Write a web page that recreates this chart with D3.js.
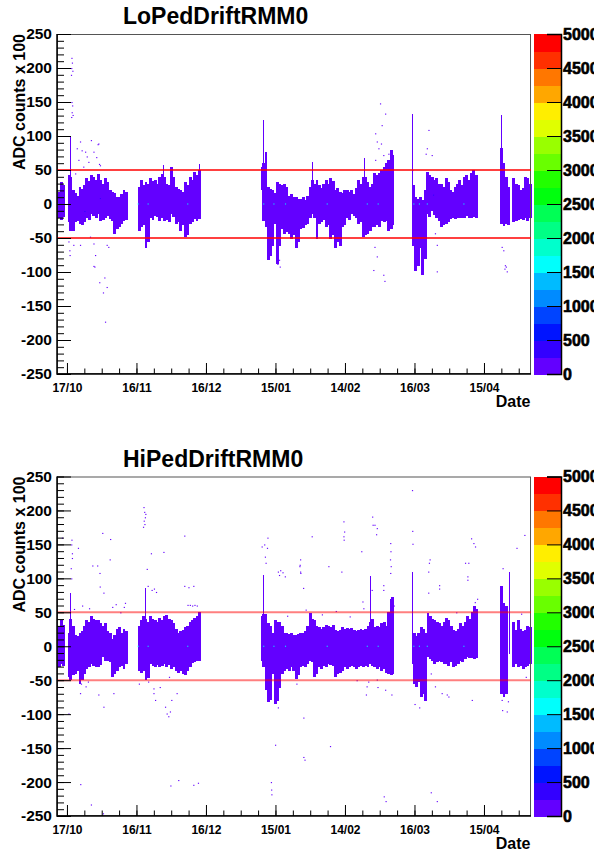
<!DOCTYPE html>
<html>
<head>
<meta charset="utf-8">
<script src="https://cdn.jsdelivr.net/npm/d3@7"></script>
<style>
body { margin: 0; background: #fff; }
text { font-family: "Liberation Sans", Arial, Helvetica, sans-serif; font-weight: bold; }
</style>
</head>
<body>
<svg id="drawArea" width="594" height="856"></svg>
<script>
// x values are days counted from 17/10
var dayRange = [-4.3, 200.3];
var dateTicks = [0, 30, 60, 90, 120, 150, 180];
var dateLabels = ["17/10", "16/11", "16/12", "15/01", "14/02", "16/03", "15/04"];
var paletteTicks = [0, 500, 1000, 1500, 2000, 2500, 3000, 3500, 4000, 4500, 5000];
var limitLines = [-50, 50];
var binDays = 0.45;

// [day, low, high] of the dense band, one column per day
var loBand = [
 [-4,-20,18],[-3,-22,32],[-2,-18,24],[-1.9,-15,28],
 [0.3,-26,43],[1,-38,40],[2,-38,21],[3,-26,16],[4,-24,12],[5,-28,25],[6,-30,22],[7,-26,28],[8,-19,38],[9,-22,34],[10,-14,43],[11,-16,40],[12,-20,36],[13,-14,44],[14,-24,35],[15,-22,30],[16,-20,38],[17,-16,32],[18,-21,21],[19,-24,18],[20,-43,16],[21,-35,10],[22,-33,11],[23,-28,14],[24,-24,21],[24.9,-22,18],
 [30.5,-38,25],[31.5,-33,35],[32.5,-30,28],[33.5,-63,33],[34.5,-55,30],[35.5,-19,38],[36.5,-22,34],[37.5,-16,35],[38.5,-18,30],[39.5,-24,39],[40.5,-20,44],[41.5,-24,40],[42.5,-22,30],[43.5,-26,28],[44.5,-14,55],[45.5,-18,40],[46.5,-28,25],[47.5,-26,22],[48.5,-38,21],[49.5,-30,18],[50.5,-48,33],[51.5,-44,28],[52.5,-28,40],[53.5,-25,36],[54.5,-21,47],[55.5,-24,42],[56.5,-21,50],
 [84.3,-24,60],[85.3,-33,77],[86.3,-82,25],[87.3,-75,22],[88.3,-60,20],[89.3,-28,16],[90.3,-87,33],[91.3,-60,30],[92.3,-35,28],[93.3,-43,30],[94.3,-40,25],[95.3,-43,12],[96.3,-50,14],[97.3,-45,10],[98.3,-63,11],[99.3,-55,8],[100.3,-36,8],[101.3,-34,10],[102.3,-30,6],[103.3,-28,12],[104.3,-19,25],[105.3,-14,35],[106.3,-20,30],[107.3,-50,35],[108.3,-28,28],[109.3,-26,24],[110.3,-22,30],[111.3,-33,35],[112.3,-30,30],[113.3,-50,38],[114.3,-45,34],[115.3,-63,21],[116.3,-55,24],[117.3,-60,18],[118.3,-33,16],[119.3,-30,20],[120.3,-19,21],[121.3,-22,18],[122.3,-14,21],[123.3,-16,15],[124.3,-20,24],[125.3,-28,35],[126.3,-25,30],[127.3,-48,40],[128.3,-45,40],[129.3,-43,33],[130.3,-38,25],[131.3,-33,30],[132.3,-33,45],[133.3,-30,42],[134.3,-33,45],[135.3,-24,50],[136.3,-26,55],[137.3,-24,60],[138.3,-38,65],[139.3,-35,79],[140,-30,72],
 [149,-60,28],[150,-97,11],[151,-90,8],[152,-63,11],[153,-104,6],[154,-80,20],[155,-14,47],[156,-18,42],[157,-9,40],[158,-15,35],[159,-19,38],[160,-24,30],[161,-33,30],[162,-30,25],[163,-28,38],[164,-25,32],[165,-21,21],[166,-20,18],[167,-21,25],[168,-19,30],[169,-20,35],[170,-19,28],[171,-19,40],[172,-17,43],[173,-20,36],[174,-19,45],[175,-18,50],[176.3,-19,42],
 [187,-28,82],[188,-31,60],[189,-28,40],[189.8,-30,25],[192.3,-26,38],[193.3,-24,30],[194.3,-22,28],[195.3,-21,21],[196.3,-23,24],[197.3,-19,40],[198.3,-24,38],[199.3,-20,30]
];
// single-bin tall columns [day, low, high]
var loSpikes = [[1.4,-38,99],[41.6,-20,57],[56.9,-15,59],[83.7,21,54],[84.7,-24,124],[105.8,-10,62],[128,-40,67],[148.8,28,133],[187.2,-28,131]];
// isolated entries [day, value]
var loDots = [
 [1.9,215],[2.1,208],[1.8,200],[2.3,196],[1.7,190],[1.9,150],[2.2,145],[2.0,135],[2.4,131],[1.8,128],
 [5.6,92],[6.3,79],[7.8,77],[8.5,70],[11.4,77],[13.5,89],[14.2,57],[4.2,82],[4.9,65],[7,55],[9.2,62],[3.5,45],[10.3,94],[12.6,69],[13.2,88],[13.8,59],
 [0.6,-55],[1.0,-68],[1.1,-75],[2.7,-60],[5.6,-60],[9.9,-48],[11.4,-58],[12.1,-75],[17.1,-60],[17.8,-63],[11.8,-92],[11.4,-91],[16.1,-108],[13.9,-115],[17.1,-122],[15.5,-130],[16.4,-173],
 [91.5,-82],[91.8,-92],[90.8,-88],
 [135.1,148],[137.3,133],[135.8,116],[133,104],[133.7,92],[135.5,89],[134.4,82],[136.5,72],[138.7,74],[140.1,70],[133,65],[156,109],[155.3,82],[154.8,74],[157.4,72],[149,50],
 [132.7,-63],[133.7,-77],[132.2,-97],[136.5,-104],[137,-113],[158.8,-43],[159.6,-60],[159.6,-99],[187.6,-63],[188.3,-68],[189,-90],[189.8,-99],[188.8,-95],[189.4,-92]
];
// bins with higher counts [day, value, count]
var loHot = [[-4.2,0,1600],[30.5,0,1600],[34.8,0,1600],[51.9,0,1600],[84.7,0,1600],[89.1,0,1600],[94.1,0,1600],[112.1,0,1600],[129.4,0,1600],[134.1,0,1600],[149.5,0,1600],[151.9,0,1600],[155.3,0,1600],[171.1,0,1600],[14.2,8,400],[7.5,-11,400],[158,13,400]];

var hiBand = [
 [-4,-30,30],[-3,-25,38],[-2,-28,28],[-1.9,-22,32],
 [0.3,-44,20],[1,-49,40],[2,-42,30],[3,-40,17],[4,-35,15],[5,-54,19],[6,-48,22],[7,-40,30],[8,-32,39],[9,-30,36],[10,-25,44],[11,-28,40],[12,-30,38],[13,-30,39],[14,-26,34],[15,-15,30],[16,-20,34],[17,-20,22],[18,-22,20],[19,-44,10],[20,-40,16],[21,-35,25],[22,-30,29],[23,-28,20],[24,-32,26],[24.9,-25,22],
 [30.5,-35,30],[31.5,-38,39],[32.5,-35,45],[33.5,-49,40],[34.5,-45,35],[35.5,-25,44],[36.5,-28,40],[37.5,-30,39],[38.5,-26,35],[39.5,-30,42],[40.5,-28,39],[41.5,-25,44],[42.5,-30,46],[43.5,-27,40],[44.5,-32,39],[45.5,-30,34],[46.5,-35,25],[47.5,-38,19],[48.5,-35,22],[49.5,-40,24],[50.5,-42,28],[51.5,-36,30],[52.5,-30,35],[53.5,-24,39],[54.5,-22,42],[55.5,-20,45],[56.5,-20,50],
 [83.7,-20,44],[84.3,-30,47],[85.3,-64,47],[86.3,-81,34],[87.3,-78,30],[88.3,-40,20],[89.3,-84,39],[90.3,-80,35],[91.3,-60,36],[92.3,-40,30],[93.3,-35,19],[94.3,-32,20],[95.3,-35,18],[96.3,-30,19],[97.3,-35,17],[98.3,-47,17],[99.3,-42,18],[100.3,-30,19],[101.3,-28,20],[102.3,-30,22],[103.3,-25,30],[104.3,-20,49],[105.3,-22,40],[106.3,-44,39],[107.3,-40,30],[108.3,-30,29],[109.3,-32,25],[110.3,-28,29],[111.3,-30,32],[112.3,-25,30],[113.3,-26,28],[114.3,-28,32],[115.3,-44,24],[116.3,-40,22],[117.3,-38,24],[118.3,-35,29],[119.3,-30,26],[120.3,-32,27],[121.3,-30,25],[122.3,-28,27],[123.3,-30,24],[124.3,-32,22],[125.3,-30,24],[126.3,-28,26],[127.3,-30,24],[128.3,-28,26],[129.3,-30,30],[130.3,-25,35],[131.3,-28,40],[132.3,-30,29],[133.3,-32,30],[134.3,-30,28],[135.3,-35,34],[136.3,-33,36],[137.3,-38,30],[138.3,-40,50],[139.3,-42,70],[140,-40,72],
 [149.3,-55,19],[150.3,-59,15],[151.3,-52,19],[152.3,-74,29],[153.3,-70,25],[154.2,-79,19],[155.2,-15,49],[156.2,-18,45],[157.2,-20,40],[158.2,-25,39],[159.2,-22,35],[160.2,-20,34],[161.2,-22,30],[162.2,-25,35],[163.2,-25,42],[164.2,-28,38],[165.2,-22,30],[166.2,-30,24],[167.2,-28,22],[168.2,-25,26],[169.2,-20,34],[170.2,-22,30],[171.2,-18,36],[172.2,-15,44],[173.2,-16,40],[174.2,-17,50],[175.2,-18,59],[176.3,-17,55],
 [187,-69,88],[188,-74,64],[189,-70,60],[192.3,-30,35],[193.3,-25,24],[194.3,-30,39],[195.3,-28,26],[196.3,-32,22],[197.3,-30,24],[198.3,-28,30],[199.3,-25,28]
];
var hiSpikes = [[1.5,-49,78],[33.7,-49,86],[84.7,-30,105],[130.9,-25,103],[148.8,-25,110],[190.6,-10,110]];
var hiDots = [
 [33,205],[33.3,198],[33.6,190],[33.1,185],[33.4,180],[33.8,195],[32.8,176],
 [-2.2,160],[1.9,157],[1.8,150],[2.1,137],[2.1,130],[1.6,115],[1.8,100],[4.7,145],[15.2,167],[18.6,158],
 [10.9,119],[13,119],[14,108],[14.1,88],[15.7,79],[18.4,128],[36.2,137],[41.6,139],[34.4,114],[34.8,89],[36.5,83],[37.5,85],[38.4,80],
 [50.6,163],[50.6,89],[52.4,87],[54.5,89],[52,61],[53,61],[54,60],[55,61],[56,60],
 [84,147],[85.1,150],[85.4,132],[85.7,123],[86.5,160],[86.3,145],[91,110],[92,112],[93,109],[94,103],[91.5,105],[100.6,110],[100.3,118],
 [0.6,-99],[5.6,-69],[13.5,-71],[15.7,-89],[20,-69],[37.3,-69],[38,-79],[42.3,-89],[43,-99],[43.7,-103],[44.4,-96],[45,-79],[47.3,-69],[37.3,-62],[40,-60],[6,-55],[8,-59],[9,-52],
 [86.9,-79],[90,-81],[91,-90],
 [89.8,-145],[102,-163],[102.5,-167],[113.5,-147],[131.7,191],[131.9,179],[148.9,230],
 [5.7,-203],[10.3,-233],[15.5,-246],[44.6,-205],[48,-197],[54.5,-204],[56.5,-201],[88,-200],[88.1,-211],[88.2,-218],[136.7,-221],[137.5,-228],[157,-215],[159.6,-228],
 [119.3,184],[119.6,169],[119.3,162],[119.4,157],[105.6,162],[100.6,128],[100.4,120],[100.7,108],[101.9,86],[112.8,118],[118.4,110],[132.7,179],[133.7,174],[133.4,165],[127,140],[127.5,66],[127.9,56],[131.5,83],
 [139.5,152],[139.6,140],[139.4,128],[139.7,118],[139.5,108],[136.5,83],[149,170],[149.1,151],[156.5,128],[156.2,123],[155.9,110],[155.9,79],[160.6,90],[160.6,85],
 [172.8,103],[172.8,98],[171.8,123],[173.2,123],[174.4,159],[175.4,152],[176.1,147],[194,145],[197.4,164],[188,115],
 [129,-71],[129.3,-59],[133.7,-49],[137.3,-64],[140,-71],[158.8,-59],[161.7,-69],[163.9,-71],[164.6,-74],[174.7,-79],[187.6,-79],[187.8,-94],[189.8,-96],[190.3,-81],[102,-105],
 [3,55],[6.5,60],[9.5,56],[19.5,58],[21,62],[23,50],[25,64],[24.5,58],[31,-55],[35,-52],[44,-45],
 [99,-55],[95,45],[103,54],[110,47],[116,52],[122,44],[125,-50],[130,-52],[134,-60],[141,60],[136.5,90],[150,-85],[152,-90],[157,-40],[168,50],[176,65],[177,70],[196,48],[198,-45]
];
var hiHot = [[-4.2,0,1600],[30.5,0,1600],[34.8,0,1600],[51.9,0,1600],[84.7,0,1600],[89.1,0,1600],[94.1,0,1600],[112.1,0,1600],[129.4,0,1600],[134.1,0,1600],[149.5,0,1600],[151.9,0,1600],[155.3,0,1600],[171.1,0,1600]];

// ROOT style rainbow palette, 20 contour levels of 250 counts
function levelColor(count) {
    var k = Math.min(19, Math.floor(count / 250));
    var idx = Math.floor((k + 0.99) * 50 / 20);
    return d3.hsl(280 - (idx + 1) * 5.6, 1, 0.5).formatHex();
}

function Panel(svg, top, bottom, title, band, spikes, dots, hot, lineOpacity, lineWidth) {
    var thisobj = this;
    this.svg = svg;
    this.left = 57;
    this.right = 531;
    this.top = top;
    this.bottom = bottom;

    this.Draw = function () {
        var g = thisobj.svg.append("g");
        var x = d3.scaleLinear().domain(dayRange).range([thisobj.left, thisobj.right]);
        var y = d3.scaleLinear().domain([-250, 250]).range([thisobj.bottom, thisobj.top]);
        var base = levelColor(0);
        var binW = x(binDays) - x(0);

        g.append("text")
            .attr("x", 123).attr("y", thisobj.top - 10)
            .attr("font-size", "23px")
            .text(title);

        // dense band, drawn crisp so neighbour columns do not leave seams
        g.append("g").attr("shape-rendering", "crispEdges")
            .selectAll("rect").data(band).enter().append("rect")
            .attr("x", function (d) { return x(d[0]); })
            .attr("width", x(1) - x(0) + 0.6)
            .attr("y", function (d) { return y(d[2]); })
            .attr("height", function (d) { return y(d[1]) - y(d[2]) + 0.7; })
            .style("fill", base);

        g.append("g").attr("shape-rendering", "crispEdges")
            .selectAll("rect").data(spikes).enter().append("rect")
            .attr("x", function (d) { return x(d[0]); })
            .attr("width", binW)
            .attr("y", function (d) { return y(d[2]); })
            .attr("height", function (d) { return y(d[1]) - y(d[2]) + 0.7; })
            .style("fill", base);

        g.append("g").selectAll("rect").data(dots).enter().append("rect")
            .attr("x", function (d) { return x(d[0]); })
            .attr("width", 1.2)
            .attr("y", function (d) { return y(d[1]); })
            .attr("height", 1.1)
            .style("fill", base);

        g.append("g").selectAll("rect").data(hot).enter().append("rect")
            .attr("x", function (d) { return x(d[0]); })
            .attr("width", 1.1)
            .attr("y", function (d) { return y(d[1]) - 0.5; })
            .attr("height", 1)
            .style("fill", function (d) { return levelColor(d[2]); });

        // frame
        g.append("rect")
            .attr("x", thisobj.left + 0.5).attr("y", thisobj.top + 0.5)
            .attr("width", thisobj.right - thisobj.left - 1)
            .attr("height", thisobj.bottom - thisobj.top - 1)
            .style("fill", "none").style("stroke", "#555").style("stroke-width", 1);

        g.append("g").selectAll("line").data(limitLines).enter().append("line")
            .attr("x1", thisobj.left).attr("x2", thisobj.right)
            .attr("y1", function (d) { return y(d); })
            .attr("y2", function (d) { return y(d); })
            .style("stroke", "red")
            .style("stroke-width", lineWidth)
            .style("stroke-opacity", lineOpacity);

        // y axis, ticks inside
        var yMinor = g.append("g").attr("transform", "translate(" + thisobj.left + ",0)")
            .call(d3.axisLeft(y).tickValues(d3.range(-250, 251, 10)).tickSize(-7).tickFormat(""));
        var yAxis = g.append("g").attr("transform", "translate(" + thisobj.left + ",0)")
            .call(d3.axisLeft(y).tickValues(d3.range(-250, 251, 50)).tickSize(-14).tickPadding(5)
                .tickFormat(function (d) { return String(d); }));
        yAxis.selectAll("text").attr("font-size", "15.5px").attr("font-family", null).style("fill", "#000");

        var xMinor = g.append("g").attr("transform", "translate(0," + thisobj.bottom + ")")
            .call(d3.axisBottom(x).tickValues(d3.range(-7.5, 200, 7.5).filter(function (d) { return d > dayRange[0]; }))
                .tickSize(-5.5).tickFormat(""));
        var xAxis = g.append("g").attr("transform", "translate(0," + thisobj.bottom + ")")
            .call(d3.axisBottom(x).tickValues(dateTicks).tickSize(-11).tickPadding(9.5)
                .tickFormat(function (d, i) { return dateLabels[i]; }));
        xAxis.selectAll("text").attr("font-size", "12px").attr("font-family", null).style("fill", "#000");

        [yMinor, yAxis, xMinor, xAxis].forEach(function (a) {
            a.select(".domain").remove();
            a.selectAll("line").style("stroke", "#000");
        });
        g.append("line").attr("x1", thisobj.left).attr("x2", thisobj.left)
            .attr("y1", thisobj.top).attr("y2", thisobj.bottom + 0.75)
            .style("stroke", "#000").style("stroke-width", 1.5);
        g.append("line").attr("x1", thisobj.left).attr("x2", thisobj.right)
            .attr("y1", thisobj.bottom).attr("y2", thisobj.bottom)
            .style("stroke", "#000").style("stroke-width", 1.5);

        g.append("text")
            .attr("transform", "translate(24.5," + thisobj.top + ") rotate(-90)")
            .attr("text-anchor", "end")
            .attr("font-size", "16px")
            .text("ADC counts x 100");

        g.append("text")
            .attr("x", 530.5).attr("y", thisobj.bottom + 33)
            .attr("text-anchor", "end")
            .attr("font-size", "16px")
            .text("Date");

        // colour palette
        var p = d3.scaleLinear().domain([0, 5000]).range([thisobj.bottom, thisobj.top]);
        g.append("g").attr("shape-rendering", "crispEdges")
            .selectAll("rect").data(d3.range(20)).enter().append("rect")
            .attr("x", 534).attr("width", 27)
            .attr("y", function (k) { return p((k + 1) * 250); })
            .attr("height", function (k) { return p(k * 250) - p((k + 1) * 250) + 0.5; })
            .style("fill", function (k) { return levelColor(k * 250); });
        var pAxis = g.append("g").attr("transform", "translate(561,0)")
            .call(d3.axisRight(p).tickValues(paletteTicks).tickSize(-14).tickPadding(2)
                .tickFormat(function (d) { return String(d); }));
        pAxis.select(".domain").style("stroke", "#000").style("stroke-width", 1.5);
        pAxis.selectAll("line").style("stroke", "#000");
        pAxis.selectAll("text").attr("font-size", "16px").attr("font-family", null)
            .style("fill", "#000").style("stroke", "#000").style("stroke-width", 0.6);
    }

    thisobj.Draw();
}

var svg = d3.select("#drawArea");
new Panel(svg, 34, 374, "LoPedDriftRMM0", loBand, loSpikes, loDots, loHot, 1, 1.3);
new Panel(svg, 476.5, 816, "HiPedDriftRMM0", hiBand, hiSpikes, hiDots, hiHot, 0.5, 2);
</script>
</body>
</html>
